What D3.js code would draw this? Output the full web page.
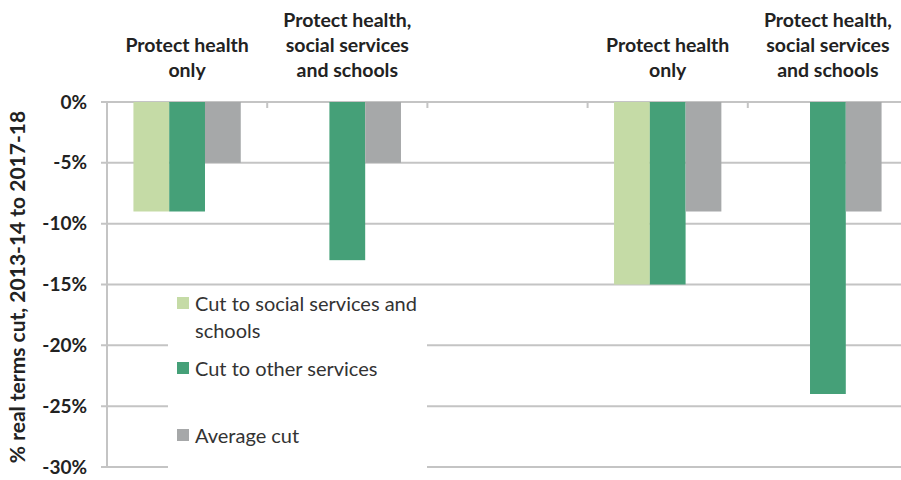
<!DOCTYPE html>
<html>
<head>
<meta charset="utf-8">
<script src="https://cdn.jsdelivr.net/npm/d3@7"></script>
<style>
  body { margin: 0; background: #fff; }
  svg { display: block; font-family: Lato, "Open Sans", sans-serif; }
</style>
</head>
<body>
<svg></svg>
<script>
// data
const categories = ["a", "b", "gap", "c", "d"]
const categoryLabels = [
    ["Protect health", "only"],
    ["Protect health,", "social services", "and schools"],
    [],
    ["Protect health", "only"],
    ["Protect health,", "social services", "and schools"]
]
const seriesNames = ["Cut to social services and schools", "Cut to other services", "Average cut"]
const socialSchools = [-9, 0, null, -15, 0]
const otherServices = [-9, -13, null, -15, -24]
const averageCut = [-5, -5, null, -9, -9]
const yTicks = [0, -5, -10, -15, -20, -25, -30]
const kleuren = ["#c5dba6", "#45a078", "#a6a8a9"]

const width = 901
const height = 480
const margin = { top: 102, right: -7, bottom: 13, left: 107 }

const svg = d3.select('svg')
    .attr("width", width)
    .attr("height", height)

const x = d3.scaleBand()
    .domain(categories)
    .range([margin.left, width - margin.right])

const groepBreedte = x.bandwidth() * 0.67
const xSub = d3.scaleBand()
    .domain(seriesNames)
    .range([0, groepBreedte])

const y = d3.scaleLinear()
    .domain([-30, 0])
    .range([height - margin.bottom, margin.top])

// gridlines
svg.append("g")
    .selectAll("line")
    .data(yTicks)
    .enter().append("line")
    .attr("x1", margin.left - 6)
    .attr("x2", width - margin.right)
    .attr("y1", d => y(d))
    .attr("y2", d => y(d))
    .attr("stroke", "#c4c4c4")
    .attr("stroke-width", 2)

// y axis line
svg.append("line")
    .attr("x1", margin.left).attr("x2", margin.left)
    .attr("y1", y(0)).attr("y2", y(-30))
    .attr("stroke", "#c4c4c4")
    .attr("stroke-width", 2)

// category ticks on the zero line
svg.append("g")
    .selectAll("line")
    .data(categories.slice(1))
    .enter().append("line")
    .attr("x1", d => x(d)).attr("x2", d => x(d))
    .attr("y1", y(0)).attr("y2", y(0) + 6)
    .attr("stroke", "#c4c4c4")
    .attr("stroke-width", 2)

// y tick labels
svg.append("g")
    .selectAll("text")
    .data(yTicks)
    .enter().append("text")
    .attr("x", 87)
    .attr("y", d => y(d))
    .attr("dy", "0.35em")
    .attr("text-anchor", "end")
    .attr("font-size", 19)
    .attr("font-weight", "bold")
    .attr("fill", "#222")
    .text(d => d + "%")

// bars
const reeksen = [socialSchools, otherServices, averageCut]
const barData = []
categories.forEach((c, i) => {
    reeksen.forEach((r, j) => {
        if (r[i] !== null && r[i] !== 0) barData.push({ cat: c, serie: seriesNames[j], value: r[i], kleur: kleuren[j] })
    })
})

svg.append("g")
    .selectAll("rect")
    .data(barData)
    .enter().append("rect")
    .attr("x", d => x(d.cat) + (x.bandwidth() - groepBreedte) / 2 + xSub(d.serie))
    .attr("width", xSub.bandwidth())
    .attr("y", y(0))
    .attr("height", d => y(d.value) - y(0))
    .attr("fill", d => d.kleur)

// category labels above
const labels = svg.append("g")
categories.forEach((c, i) => {
    const regels = categoryLabels[i]
    regels.forEach((regel, k) => {
        labels.append("text")
            .attr("x", x(c) + x.bandwidth() / 2)
            .attr("y", 77 - (regels.length - 1 - k) * 25)
            .attr("text-anchor", "middle")
            .attr("font-size", 19.5)
            .attr("font-weight", "bold")
            .attr("fill", "#222")
            .text(regel)
    })
})

// y axis title
svg.append("text")
    .attr("transform", "translate(25,287) rotate(-90)")
    .attr("text-anchor", "middle")
    .attr("font-size", 21)
    .attr("font-weight", "bold")
    .attr("fill", "#222")
    .text("% real terms cut, 2013-14 to 2017-18")

// legend
const legend = svg.append("g")
legend.append("rect")
    .attr("x", 168).attr("y", 286)
    .attr("width", 259).attr("height", 186)
    .attr("fill", "#fff")

const legendItems = [
    { lines: ["Cut to social services and", "schools"], y: 304 },
    { lines: ["Cut to other services"], y: 369 },
    { lines: ["Average cut"], y: 436 }
]
legendItems.forEach((item, i) => {
    legend.append("rect")
        .attr("x", 177).attr("y", item.y - 7)
        .attr("width", 12).attr("height", 12)
        .attr("fill", kleuren[i])
    item.lines.forEach((regel, k) => {
        legend.append("text")
            .attr("x", 195)
            .attr("y", item.y + k * 27)
            .attr("dy", "0.35em")
            .attr("font-size", 20)
            .attr("fill", "#333")
            .text(regel)
    })
})
</script>
</body>
</html>
